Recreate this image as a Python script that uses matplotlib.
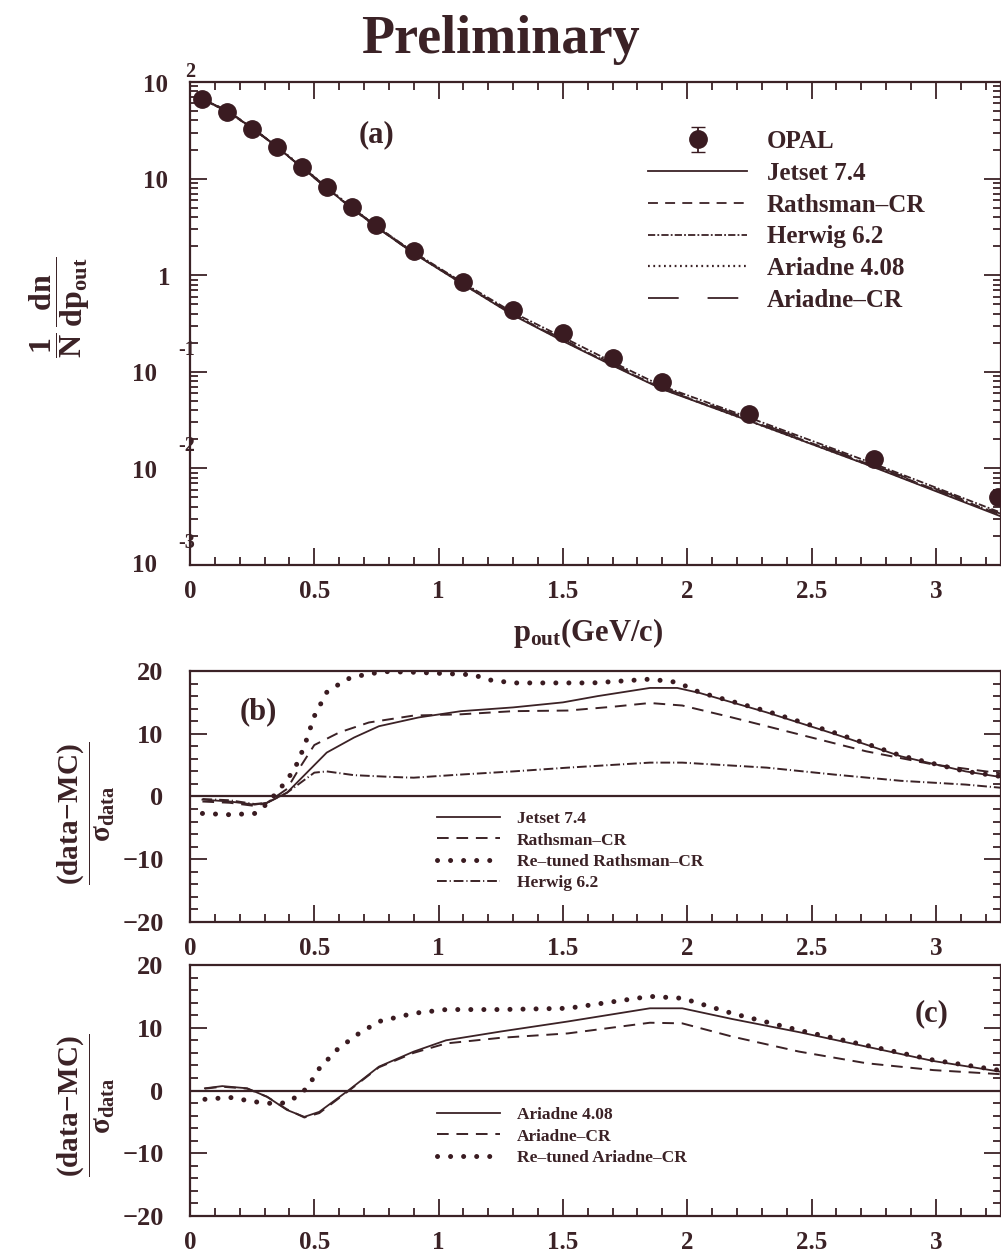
import matplotlib
matplotlib.use("Agg")
import matplotlib.pyplot as plt
import matplotlib.transforms as mtransforms
import numpy as np
from matplotlib.ticker import LogLocator, MultipleLocator, NullFormatter, FixedLocator

INK = "#3b2226"
DOT = "#3a1b21"

plt.rcParams["font.family"] = ["Liberation Serif", "DejaVu Serif"]
plt.rcParams["font.weight"] = "bold"
plt.rcParams["mathtext.fontset"] = "custom"
plt.rcParams["mathtext.rm"] = "Liberation Serif:bold"
plt.rcParams["mathtext.bf"] = "Liberation Serif:bold"
plt.rcParams["mathtext.it"] = "Liberation Serif:bold"
plt.rcParams["mathtext.default"] = "bf"
plt.rcParams["axes.unicode_minus"] = True

# ---- (a) p_out spectrum ----
p_opal = [0.05, 0.15, 0.25, 0.35, 0.45, 0.55, 0.65, 0.75, 0.9, 1.1, 1.3, 1.5,
          1.7, 1.9, 2.25, 2.75, 3.25]
opal = [66, 49, 33, 21, 13.1, 8.1, 5.1, 3.3, 1.78, 0.86, 0.44, 0.25,
        0.138, 0.079, 0.037, 0.0126, 0.0051]
opal_err = [0.4, 0.3, 0.2, 0.13, 0.08, 0.05, 0.03, 0.02, 0.011, 0.006, 0.003,
            0.002, 0.0012, 0.0008, 0.0004, 0.0002, 0.0001]

p_mc = [0.05, 0.15, 0.25, 0.35, 0.45, 0.55, 0.65, 0.75, 0.9, 1.1, 1.3, 1.5,
        1.7, 1.9, 2.25, 2.75, 3.26]
jetset = [67, 50, 33.5, 21.3, 13.0, 8.0, 4.95, 3.15, 1.68, 0.80, 0.385, 0.208,
          0.116, 0.066, 0.031, 0.0103, 0.0032]
rathsman = [67.5, 50.5, 33.8, 21.3, 13.0, 7.95, 4.92, 3.14, 1.69, 0.81, 0.392,
            0.212, 0.118, 0.067, 0.0315, 0.0106, 0.0033]
herwig = [66, 49.5, 33.2, 21.2, 13.1, 8.05, 5.0, 3.22, 1.73, 0.83, 0.41,
          0.228, 0.126, 0.071, 0.0335, 0.0112, 0.0035]
ariadne = [66.5, 49.7, 33.4, 21.4, 13.3, 8.15, 5.02, 3.2, 1.70, 0.805, 0.39,
           0.211, 0.118, 0.067, 0.031, 0.0104, 0.0033]
ariadne_cr = [66.5, 49.7, 33.4, 21.4, 13.3, 8.15, 5.03, 3.21, 1.71, 0.815,
              0.398, 0.217, 0.121, 0.069, 0.0322, 0.0108, 0.0034]

# ---- (b) pulls, Jetset / Rathsman / Herwig ----
jetset_b_x = [0.05, 0.16, 0.26, 0.31, 0.39, 0.47, 0.55, 0.66, 0.76, 0.92, 1.09,
              1.30, 1.50, 1.64, 1.85, 1.96, 2.05, 2.32, 2.59, 2.86, 3.12, 3.26]
jetset_b = [-0.5, -0.8, -1.3, -1.0, 0.6, 3.8, 7.0, 9.4, 11.2, 12.6, 13.6,
            14.2, 15.0, 16.0, 17.3, 17.3, 16.5, 13.4, 10.0, 6.4, 4.0, 3.1]
rathsman_b_x = [0.05, 0.16, 0.26, 0.31, 0.39, 0.44, 0.50, 0.60, 0.72, 0.90,
                1.09, 1.30, 1.52, 1.70, 1.85, 1.98, 2.18, 2.45, 2.72, 2.99, 3.26]
rathsman_b = [-0.8, -1.0, -1.5, -1.0, 1.2, 4.5, 8.2, 10.2, 11.8, 12.9, 13.1,
              13.6, 13.7, 14.3, 14.9, 14.5, 12.6, 9.9, 7.2, 5.1, 3.7]
retuned_rathsman_x = [0.05, 0.16, 0.26, 0.30, 0.36, 0.42, 0.46, 0.50, 0.55,
                      0.63, 0.71, 0.79, 0.90, 1.14, 1.20, 1.30, 1.62, 1.85,
                      1.96, 2.05, 2.32, 2.59, 2.86, 3.12, 3.26]
retuned_rathsman = [-2.7, -2.9, -2.7, -1.5, 1.1, 4.3, 8.0, 12.8, 16.6, 18.7,
                    19.5, 19.9, 19.8, 19.4, 18.6, 18.1, 18.1, 18.7, 18.2, 16.6,
                    13.6, 10.2, 6.5, 4.0, 3.2]
herwig_b_x = [0.05, 0.16, 0.26, 0.31, 0.39, 0.50, 0.55, 0.66, 0.82, 0.90, 1.09,
              1.30, 1.52, 1.85, 1.98, 2.32, 2.59, 2.86, 3.12, 3.26]
herwig_b = [-0.4, -0.6, -1.2, -1.0, 0.6, 3.8, 4.0, 3.4, 3.1, 3.0, 3.5, 4.0,
            4.6, 5.4, 5.4, 4.6, 3.5, 2.5, 1.9, 1.4]

# ---- (c) pulls, Ariadne ----
ariadne_c_x = [0.06, 0.13, 0.23, 0.31, 0.39, 0.46, 0.52, 0.64, 0.76, 0.90,
               1.03, 1.25, 1.52, 1.85, 1.98, 2.18, 2.45, 2.72, 2.99, 3.26]
ariadne_c = [0.35, 0.7, 0.35, -1.0, -3.1, -4.2, -3.4, 0.1, 3.8, 6.2, 8.0, 9.4,
             11.0, 13.1, 13.1, 11.4, 9.3, 7.0, 4.7, 3.0]
ariadne_cr_c = [0.3, 0.6, 0.3, -1.0, -3.0, -4.3, -3.6, 0.0, 3.7, 6.0, 7.5, 8.4,
                9.1, 10.8, 10.7, 8.6, 6.2, 4.35, 3.25, 2.6]
retuned_ariadne_x = [0.06, 0.16, 0.26, 0.35, 0.40, 0.47, 0.52, 0.59, 0.67,
                     0.76, 0.90, 1.03, 1.25, 1.52, 1.85, 1.98, 2.18, 2.45,
                     2.72, 2.99, 3.26]
retuned_ariadne = [-1.4, -1.1, -1.8, -2.15, -1.8, 0.35, 3.5, 6.45, 8.85, 11.0,
                   12.3, 12.9, 12.9, 13.1, 15.0, 14.7, 12.3, 9.6, 7.2, 4.85, 3.2]

decades = [1e2, 1e1, 1e0, 1e-1, 1e-2, 1e-3]
decade_base = ["10", "10", "1", "10", "10", "10"]
decade_exp = ["2", "", "", "-1", "-2", "-3"]
x_ticks = [0, 0.5, 1, 1.5, 2, 2.5, 3]
x_ticklabels = ["0", "0.5", "1", "1.5", "2", "2.5", "3"]

W, H = 1001, 1255
fig = plt.figure(figsize=(W / 100, H / 100), dpi=100)


def frac(x0, y0, x1, y1):
    return [x0 / W, 1 - y1 / H, (x1 - x0) / W, (y1 - y0) / H]


ax_a = fig.add_axes(frac(190, 82, 1001, 565))
ax_b = fig.add_axes(frac(190, 671, 1001, 922))
ax_c = fig.add_axes(frac(190, 965, 1001, 1216))

XMAX = 811 / 248.6

solid = dict(color=INK, lw=1.3, ls="-")
dashed = dict(color=INK, lw=1.3, ls=(0, (5.5, 4)))
herwig_ls = dict(color=INK, lw=1.3, ls=(0, (4, 1.2, 1, 1.2)))
fine_dot = dict(color=INK, lw=1.6, ls=(0, (0.8, 1.6)))
long_dash = dict(color=INK, lw=1.3, ls=(0, (17, 16)))
big_dot = dict(color=DOT, lw=3.6, ls=(0, (0.01, 2.6)), dash_capstyle="round")

for ax in (ax_a, ax_b, ax_c):
    ax.set_xlim(0, XMAX)
    ax.xaxis.set_major_locator(FixedLocator(x_ticks))
    ax.xaxis.set_minor_locator(MultipleLocator(0.1))
    ax.set_xticklabels(x_ticklabels)
    ax.tick_params(which="both", direction="in", colors=INK, width=1.3,
                   labelsize=18, labelcolor=INK)
    ax.tick_params(which="major", length=12)
    ax.tick_params(which="minor", length=6)
    ax.tick_params(axis="x", pad=11)
    for s in ax.spines.values():
        s.set_linewidth(1.6)
        s.set_color(INK)

# (a)
ax_a.set_yscale("log")
ax_a.set_ylim(1e-3, 1e2)
ax_a.yaxis.set_major_locator(LogLocator(base=10, numticks=10))
ax_a.yaxis.set_minor_locator(LogLocator(base=10, subs=np.arange(2, 10), numticks=20))
ax_a.yaxis.set_major_formatter(NullFormatter())
ax_a.yaxis.set_minor_formatter(NullFormatter())
ax_a.tick_params(which="both", top=True, right=True)

h_j, = ax_a.plot(p_mc, jetset, **solid)
h_r, = ax_a.plot(p_mc, rathsman, **dashed)
h_h, = ax_a.plot(p_mc, herwig, **herwig_ls)
h_a, = ax_a.plot(p_mc, ariadne, **fine_dot)
h_acr, = ax_a.plot(p_mc, ariadne_cr, **long_dash)
h_o = ax_a.errorbar(p_opal, opal, yerr=opal_err, fmt="o", ms=12.5, color=DOT,
                    ecolor=DOT, elinewidth=1.3, capsize=5, zorder=5, clip_on=False)

ax_a.legend([h_o, h_j, h_r, h_h, h_a, h_acr],
            ["OPAL", "Jetset 7.4", "Rathsman\u2013CR", "Herwig 6.2",
             "Ariadne 4.08", "Ariadne\u2013CR"],
            loc="upper left", bbox_to_anchor=(648 / W, 1 - 130 / H),
            bbox_transform=fig.transFigure, frameon=False, borderpad=0,
            borderaxespad=0, fontsize=18, handlelength=3.96, handletextpad=0.8,
            labelspacing=0.35, labelcolor=INK)

fig.text(376 / W, 1 - 135 / H, "(a)", ha="center", va="center", size=22, color=INK)

# decade labels with raised exponents
base_dx = [-22, -22, -20, -33, -33, -33]
base_dy = [4, 3, 3, 3, 3, 1]
exp_dx = [-5, 0, 0, -12, -12, -12]
exp_dy = [-10, 0, 0, -22, -22, -22]
blend = mtransforms.blended_transform_factory(ax_a.transAxes, ax_a.transData)
for v, b, e, bx, by, ex, ey in zip(decades, decade_base, decade_exp,
                                   base_dx, base_dy, exp_dx, exp_dy):
    tr = blend + mtransforms.ScaledTranslation(bx / 100, -by / 100, fig.dpi_scale_trans)
    ax_a.text(0, v, b, transform=tr, ha="right", va="center", size=18,
              color=INK, clip_on=False)
    if e:
        tr = blend + mtransforms.ScaledTranslation(ex / 100, -ey / 100, fig.dpi_scale_trans)
        ax_a.text(0, v, e, transform=tr, ha="left", va="center", size=14.5,
                  color=INK, clip_on=False)

fig.text(60 / W, 1 - 307 / H, r"$\dfrac{1}{N}\,\dfrac{dn}{dp_{out}}$", rotation=90,
         ha="center", va="center", size=23, color=INK)
fig.text(588 / W, 1 - 633 / H, r"$p_{out}$(GeV/c)", ha="center", va="center",
         size=22, color=INK)
fig.text(500 / W, 1 - 40 / H, "Preliminary", ha="center", va="center",
         size=39, color=INK)

# (b) and (c)
for ax in (ax_b, ax_c):
    ax.set_ylim(-20, 20)
    ax.yaxis.set_major_locator(MultipleLocator(10))
    ax.yaxis.set_minor_locator(MultipleLocator(2))
    ax.tick_params(which="both", top=False, right=True)
    ax.tick_params(axis="y", pad=19, labelsize=19)
    ax.axhline(0, color=INK, lw=1.6)
    fig.text(86 / W, 1 - (813 if ax is ax_b else 1105) / H,
             r"$\dfrac{(data\!-\!MC)}{\sigma_{data}}$", rotation=90,
             ha="center", va="center", size=21, color=INK)

g_j, = ax_b.plot(jetset_b_x, jetset_b, **solid)
g_r, = ax_b.plot(rathsman_b_x, rathsman_b, color=INK, lw=1.4, ls=(0, (6, 4)))
g_rt, = ax_b.plot(retuned_rathsman_x, retuned_rathsman, **big_dot)
g_h, = ax_b.plot(herwig_b_x, herwig_b, color=INK, lw=1.4, ls=(0, (5, 1.5, 0.6, 1.5)))
ax_b.legend([g_j, g_r, g_rt, g_h],
            ["Jetset 7.4", "Rathsman\u2013CR", "Re\u2013tuned Rathsman\u2013CR",
             "Herwig 6.2"],
            loc="upper left", bbox_to_anchor=(437 / W, 1 - 811 / H),
            bbox_transform=fig.transFigure, frameon=False, borderpad=0,
            borderaxespad=0, fontsize=12.5, handlelength=3.6, handletextpad=1.0,
            labelspacing=0.3, labelcolor=INK)
fig.text(258 / W, 1 - 712 / H, "(b)", ha="center", va="center", size=22, color=INK)

k_a, = ax_c.plot(ariadne_c_x, ariadne_c, **solid)
k_cr, = ax_c.plot(ariadne_c_x, ariadne_cr_c, color=INK, lw=1.4, ls=(0, (6, 4)))
k_rt, = ax_c.plot(retuned_ariadne_x, retuned_ariadne, **big_dot)
ax_c.legend([k_a, k_cr, k_rt],
            ["Ariadne 4.08", "Ariadne\u2013CR", "Re\u2013tuned Ariadne\u2013CR"],
            loc="upper left", bbox_to_anchor=(437 / W, 1 - 1107 / H),
            bbox_transform=fig.transFigure, frameon=False, borderpad=0,
            borderaxespad=0, fontsize=12.5, handlelength=3.6, handletextpad=1.0,
            labelspacing=0.3, labelcolor=INK)
fig.text(932 / W, 1 - 1014 / H, "(c)", ha="center", va="center", size=22, color=INK)

fig.savefig("out.png", dpi=100, facecolor="white")
